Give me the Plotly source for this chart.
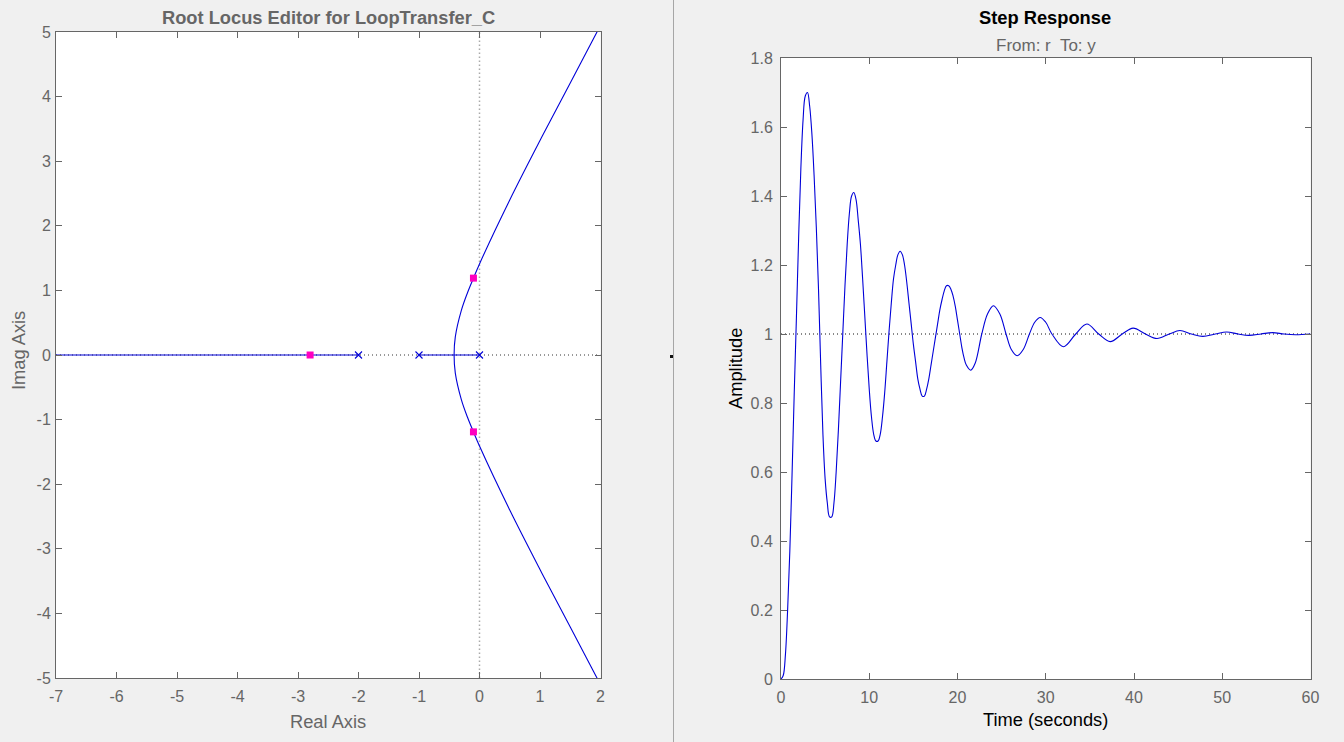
import plotly.graph_objects as go

W, H = 1344, 742
BLUE = "#0000d8"
MAGENTA = "#ff00c0"
AXIS_GRAY = "#666666"
BG = "#f0f0f0"

# Root locus
locus_re = [1.97, 1.5, 1.0, 0.5, 0.0, -0.1, -0.2, -0.3, -0.4, -0.42, -0.4, -0.3, -0.2, -0.1, 0.0, 0.5, 1.0, 1.5, 1.97]
locus_im = [5.05, 4.21, 3.32, 2.40, 1.41, 1.19, 0.96, 0.69, 0.28, 0.0, -0.28, -0.69, -0.96, -1.19, -1.41, -2.40, -3.32, -4.21, -5.05]
real_seg1_re = [-7, -2]
real_seg1_im = [0, 0]
real_seg2_re = [-1, 0]
real_seg2_im = [0, 0]
pole_re = [-2, -1, 0]
pole_im = [0, 0, 0]
closed_re = [-2.8, -0.1, -0.1]
closed_im = [0, 1.19, -1.19]

# Step response
step_t = [0, 0.25, 0.5, 0.75, 1, 1.25, 1.5, 1.75, 2, 2.25, 2.5, 2.75, 3, 3.25, 3.5, 3.75, 4, 4.25, 4.5, 4.75,
          5, 5.25, 5.5, 5.75, 6, 6.25, 6.5, 6.75, 7, 7.25, 7.5, 7.75, 8, 8.25, 8.5, 8.75, 9, 9.25, 9.5, 9.75,
          10, 10.25, 10.5, 10.75, 11, 11.25, 11.5, 11.75, 12, 12.25, 12.5, 12.75, 13, 13.25, 13.5, 13.75, 14,
          14.25, 14.5, 14.75, 15, 15.25, 15.5, 15.75, 16, 16.25, 16.5, 16.75, 17, 17.25, 17.5, 17.75, 18, 18.25,
          18.5, 18.75, 19, 19.25, 19.5, 19.75, 20, 20.25, 20.5, 20.75, 21, 21.5, 22, 22.75, 23.4, 24.07, 24.8,
          25.5, 26.1, 26.76, 27.45, 28.15, 28.75, 29.37, 30, 30.7, 32, 33.4, 34.66, 36, 37.3, 38.67, 39.9, 41.3,
          42.6, 44, 45.2, 46.5, 47.8, 49.2, 50.5, 51.8, 53, 54.4, 55.7, 57, 58.3, 60]
step_y = [0, 0.01, 0.07, 0.2, 0.37, 0.59, 0.83, 1.05, 1.28, 1.48, 1.62, 1.69, 1.70, 1.66, 1.58, 1.46, 1.31, 1.13, 0.91, 0.71,
          0.58, 0.51, 0.47, 0.47, 0.51, 0.60, 0.72, 0.86, 1.0, 1.14, 1.26, 1.35, 1.40, 1.41, 1.39, 1.33, 1.26, 1.16, 1.05, 0.94,
          0.84, 0.76, 0.71, 0.69, 0.69, 0.71, 0.76, 0.83, 0.92, 1.01, 1.09, 1.16, 1.20, 1.23, 1.24, 1.23, 1.20,
          1.15, 1.09, 1.03, 0.97, 0.92, 0.87, 0.84, 0.82, 0.82, 0.84, 0.87, 0.91, 0.95, 0.99, 1.03, 1.07, 1.10,
          1.125, 1.14, 1.14, 1.13, 1.11, 1.08, 1.04, 1.0, 0.96, 0.93, 0.91, 0.895, 0.915, 1.0, 1.058, 1.082, 1.058,
          1.0, 0.955, 0.937, 0.955, 1.0, 1.034, 1.048, 1.034, 1.0, 0.963, 1.0, 1.029, 1.0, 0.978, 1.0, 1.017, 1.0,
          0.987, 1.0, 1.01, 1.0, 0.993, 1.0, 1.006, 1.0, 0.996, 1.0, 1.004, 1.0, 0.998, 1.0]

ref_t = [0, 60]
ref_y = [1, 1]
zero_re = [-7, 2]
zero_im = [0, 0]
vert_re = [0, 0]
vert_im = [-5, 5]

left_xticks = [-7, -6, -5, -4, -3, -2, -1, 0, 1, 2]
left_yticks = [-5, -4, -3, -2, -1, 0, 1, 2, 3, 4, 5]
right_xticks = [0, 10, 20, 30, 40, 50, 60]
right_yticks = [0, 0.2, 0.4, 0.6, 0.8, 1, 1.2, 1.4, 1.6, 1.8]
right_yticktext = ["0", "0.2", "0.4", "0.6", "0.8", "1", "1.2", "1.4", "1.6", "1.8"]

fig = go.Figure()


def line(x, y, axes, color=BLUE, dash=None, shape="linear", width=1.1):
    fig.add_trace(go.Scatter(x=x, y=y, mode="lines", xaxis=axes[0], yaxis=axes[1], hoverinfo="skip",
                             line=dict(color=color, width=width, dash=dash, shape=shape)))


line(zero_re, zero_im, ("x", "y"), color="#333333", dash="1px 3px", width=1)
line(vert_re, vert_im, ("x", "y"), color="#aaaaaa", dash="1.5px 2.5px", width=1.5)
line(real_seg1_re, real_seg1_im, ("x", "y"))
line(real_seg2_re, real_seg2_im, ("x", "y"))
line(locus_re, locus_im, ("x", "y"), shape="spline")
fig.add_trace(go.Scatter(x=pole_re, y=pole_im, mode="markers", xaxis="x", yaxis="y", hoverinfo="skip",
                         marker=dict(symbol="x-thin", size=7, line=dict(color=BLUE, width=1.1))))
fig.add_trace(go.Scatter(x=closed_re, y=closed_im, mode="markers", xaxis="x", yaxis="y", hoverinfo="skip",
                         marker=dict(symbol="square", size=7, color=MAGENTA)))

line(ref_t, ref_y, ("x2", "y2"), color="#111111", dash="1px 3px", width=1)
line(step_t, step_y, ("x2", "y2"), shape="spline")


def axis(domain, rng, tickvals, ticktext=None, anchor=None, standoff=0):
    return dict(domain=domain, range=rng, tickmode="array", tickvals=tickvals,
                ticktext=ticktext if ticktext else [str(v) for v in tickvals],
                ticks="inside", ticklen=6, tickwidth=1, tickcolor=AXIS_GRAY,
                showline=True, linecolor=AXIS_GRAY, linewidth=1, mirror="ticks",
                showgrid=False, zeroline=False, anchor=anchor, automargin=False,
                ticklabelstandoff=standoff,
                tickfont=dict(family="Liberation Sans", size=16, color=AXIS_GRAY))


def px_x(p):
    return p / W


def px_y(p):
    return 1 - p / H


fig.update_layout(
    width=W, height=H, margin=dict(l=0, r=0, t=0, b=0), autosize=False,
    paper_bgcolor=BG, plot_bgcolor="white", showlegend=False,
    xaxis=axis([px_x(56), px_x(600.5)], [-7, 2], left_xticks, anchor="y", standoff=4),
    yaxis=axis([px_y(678), px_y(32)], [-5, 5], left_yticks, anchor="x", standoff=1),
    xaxis2=axis([px_x(781), px_x(1310.5)], [0, 60], right_xticks, anchor="y2", standoff=4),
    yaxis2=axis([px_y(679), px_y(58)], [0, 1.8], right_yticks, right_yticktext, anchor="x2", standoff=4),
    shapes=[
        dict(type="line", xref="paper", yref="paper", x0=px_x(673.5), x1=px_x(673.5), y0=0, y1=1,
             line=dict(color="#a6a6a6", width=1)),
        dict(type="rect", xref="paper", yref="paper", x0=px_x(670), x1=px_x(673), y0=px_y(355), y1=px_y(358),
             fillcolor="#111111", line=dict(width=0)),
    ],
)


def label(text, x, y, size=18.3, color=AXIS_GRAY, bold=False, angle=0):
    fig.add_annotation(text=f"<b>{text}</b>" if bold else text, xref="paper", yref="paper",
                       x=px_x(x), y=px_y(y), showarrow=False, textangle=angle,
                       xanchor="center", yanchor="middle",
                       font=dict(family="Liberation Sans", size=size, color=color))


label("Root Locus Editor for LoopTransfer_C", 328, 17, bold=True)
label("Real Axis", 328, 721)
label("Imag Axis", 18, 351, angle=-90)
label("Step Response", 1045, 17, color="black", bold=True)
label("From: r  To: y", 1046, 45, size=17)
label("Time (seconds)", 1045, 719, color="black")
label("Amplitude", 735, 369, color="black", angle=-90)

fig.write_html(
    "out.html",
    config={"displayModeBar": False},
    post_script=(
        "document.documentElement.style.margin='0';"
        "document.body.style.margin='0';"
        "document.body.style.background='#f0f0f0';"
    ),
)
